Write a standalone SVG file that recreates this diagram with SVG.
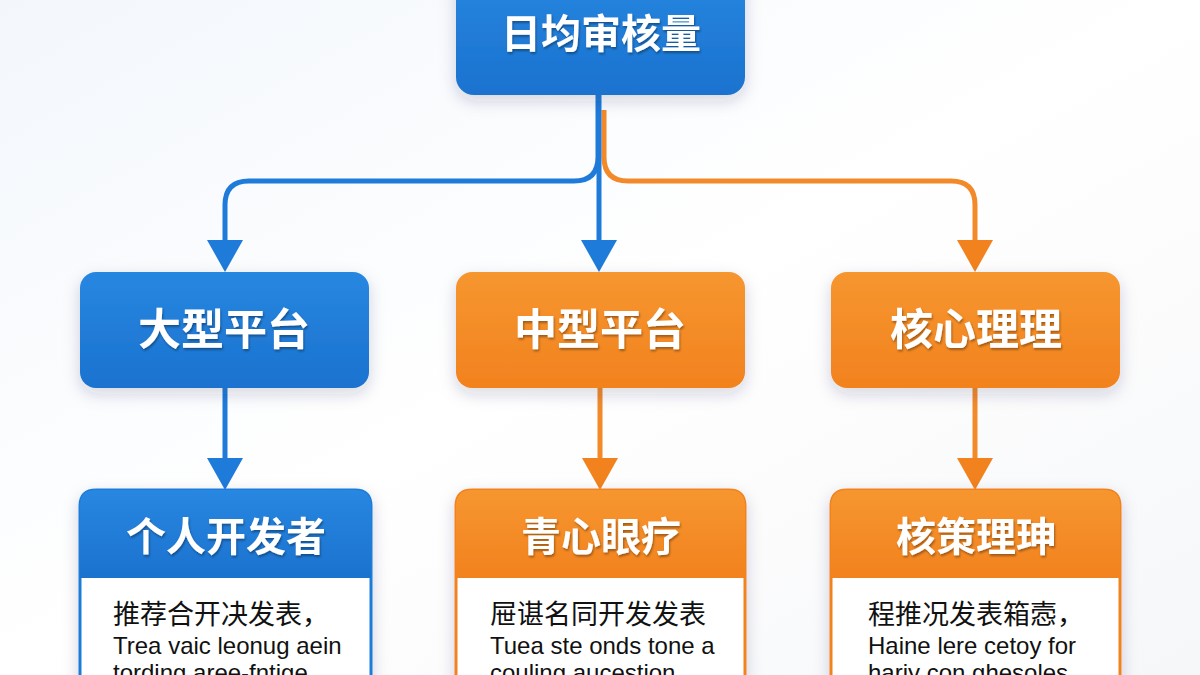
<svg xmlns="http://www.w3.org/2000/svg" width="1200" height="675" viewBox="0 0 1200 675">
<defs>
<linearGradient id="bg" x1="0" y1="0" x2="1" y2="1">
<stop offset="0" stop-color="#F3F7FC"/>
<stop offset="0.5" stop-color="#FFFFFF"/>
<stop offset="1" stop-color="#F6F7F9"/>
</linearGradient>
<linearGradient id="gBlue" x1="0" y1="0" x2="0" y2="1">
<stop offset="0" stop-color="#2887E0"/>
<stop offset="1" stop-color="#1A72CF"/>
</linearGradient>
<linearGradient id="gOrange" x1="0" y1="0" x2="0" y2="1">
<stop offset="0" stop-color="#F6962F"/>
<stop offset="1" stop-color="#F2821E"/>
</linearGradient>
<filter id="shadow" x="-20%" y="-20%" width="140%" height="150%">
<feDropShadow dx="0" dy="6" stdDeviation="8" flood-color="#1a3050" flood-opacity="0.18"/>
</filter>
<filter id="tshadow" x="-10%" y="-20%" width="120%" height="150%">
<feDropShadow dx="1" dy="2" stdDeviation="1" flood-color="#000" flood-opacity="0.35"/>
</filter>
<style>
.title{font-family:"Noto Sans CJK SC","Noto Sans",sans-serif;font-weight:700;fill:#FFFFFF;text-anchor:middle;font-size:40px}
.mid{font-size:43px}
.cjk{font-family:"Noto Sans CJK SC","Noto Sans",sans-serif;font-size:27px;fill:#111}
.lat{font-family:"Liberation Sans","Noto Sans CJK SC",sans-serif;font-size:24px;fill:#111}
.lb{stroke:#1E7BD9;stroke-width:5;fill:none}
.lo{stroke:#F28A2A;stroke-width:5;fill:none}
.ab{fill:#1E7BD9}
.ao{fill:#F2821E}
</style>
</defs>
<rect width="1200" height="675" fill="url(#bg)"/>

<g id="connectors">
<path class="lo" d="M604,110 V157 Q604,181 628,181 H951 Q975,181 975,205 V246"/>
<path class="lb" d="M598,95 V157 Q598,181 574,181 H249 Q225,181 225,205 V246"/>
<path class="lb" d="M599,95 V246"/>
<polygon class="ab" points="207,240 243,240 225,272"/>
<polygon class="ab" points="581,240 617,240 599,272"/>
<polygon class="ao" points="957,240 993,240 975,272"/>
<path class="lb" d="M225,388 V464"/>
<path class="lo" d="M600,388 V464"/>
<path class="lo" d="M975,388 V464"/>
<polygon class="ab" points="207,458 243,458 225,490"/>
<polygon class="ao" points="582,458 618,458 600,490"/>
<polygon class="ao" points="957,458 993,458 975,490"/>
</g>

<g id="node-top">
<rect x="456" y="-30" width="289" height="125" rx="18" fill="url(#gBlue)" filter="url(#shadow)"/>
<text class="title" x="601" y="48" font-size="42" filter="url(#tshadow)">日均审核量</text>
</g>

<g id="node-large">
<rect x="80" y="272" width="289" height="116" rx="16" fill="url(#gBlue)" filter="url(#shadow)"/>
<text class="title mid" x="224" y="345" filter="url(#tshadow)">大型平台</text>
</g>

<g id="node-medium">
<rect x="456" y="272" width="289" height="116" rx="16" fill="url(#gOrange)" filter="url(#shadow)"/>
<text class="title mid" x="600" y="345" filter="url(#tshadow)">中型平台</text>
</g>

<g id="node-core">
<rect x="831" y="272" width="289" height="116" rx="16" fill="url(#gOrange)" filter="url(#shadow)"/>
<text class="title mid" x="976" y="345" filter="url(#tshadow)">核心理理</text>
</g>

<g id="node-dev">
<path d="M80,700 V506 Q80,490 96,490 H355 Q371,490 371,506 V700 Z" fill="#FFFFFF" stroke="#1E7BD9" stroke-width="3" filter="url(#shadow)"/>
<path d="M80,578 V506 Q80,490 96,490 H355 Q371,490 371,506 V578 Z" fill="url(#gBlue)"/>
<text class="title" x="226" y="551" filter="url(#tshadow)">个人开发者</text>
<text class="cjk" x="113" y="624">推荐合开决发表，</text>
<text class="lat" x="113" y="654">Trea vaic leonug aein</text>
<text class="lat" x="113" y="681">tording aree-fntige</text>
</g>

<g id="node-qingxin">
<path d="M456,700 V506 Q456,490 472,490 H729 Q745,490 745,506 V700 Z" fill="#FFFFFF" stroke="#F2821E" stroke-width="3" filter="url(#shadow)"/>
<path d="M456,578 V506 Q456,490 472,490 H729 Q745,490 745,506 V578 Z" fill="url(#gOrange)"/>
<text class="title" x="601" y="551" filter="url(#tshadow)">青心眼疗</text>
<text class="cjk" x="490" y="624">屉谌名同开发发表</text>
<text class="lat" x="490" y="654">Tuea ste onds tone a</text>
<text class="lat" x="490" y="681">couling aucestion</text>
</g>

<g id="node-policy">
<path d="M831,700 V506 Q831,490 847,490 H1104 Q1120,490 1120,506 V700 Z" fill="#FFFFFF" stroke="#F2821E" stroke-width="3" filter="url(#shadow)"/>
<path d="M831,578 V506 Q831,490 847,490 H1104 Q1120,490 1120,506 V578 Z" fill="url(#gOrange)"/>
<text class="title" x="976" y="551" filter="url(#tshadow)">核策理珅</text>
<text class="cjk" x="868" y="624">程推况发表箱悫，</text>
<text class="lat" x="868" y="654">Haine lere cetoy for</text>
<text class="lat" x="868" y="681">hariy con ghesoles</text>
</g>
</svg>
